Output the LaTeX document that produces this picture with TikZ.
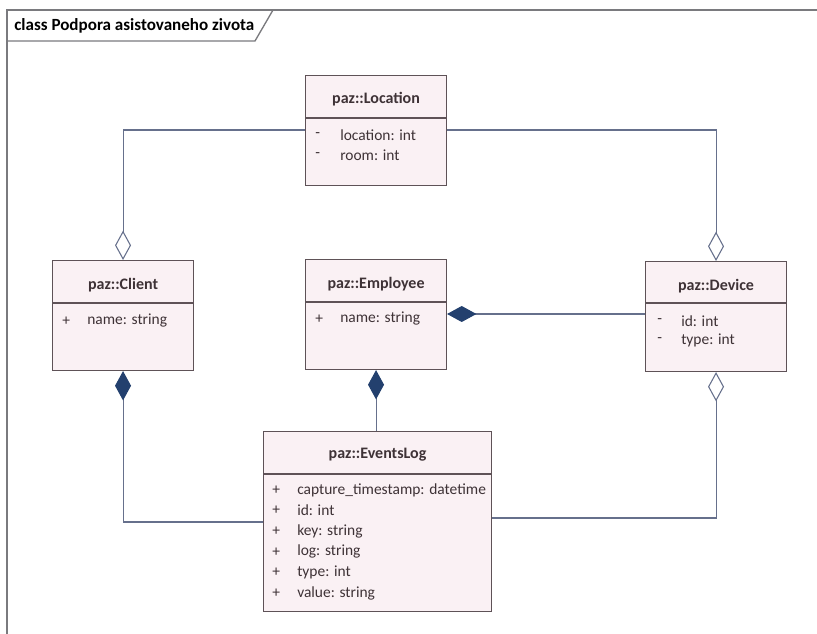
\documentclass[tikz,border=0pt]{standalone}
\usepackage{fontspec}
\setmainfont{Carlito}
\usetikzlibrary{arrows.meta}
\usetikzlibrary{calc}

\definecolor{boxfill}{HTML}{FAF1F4}
\definecolor{boxline}{HTML}{5E5257}
\definecolor{connline}{HTML}{66708C}
\definecolor{diafill}{HTML}{23406E}
\definecolor{txt}{HTML}{3E3236}
\definecolor{framecol}{HTML}{7A7A7E}

\tikzset{
	umlbox/.style={draw=boxline, fill=boxfill, line width=0.8pt, anchor=north west, inner sep=0pt,
		minimum width=105.75pt, minimum height=82.5pt},
	boxtitle/.style={font=\bfseries\fontsize{12}{14}\selectfont, text=txt, inner sep=0pt},
	attr/.style={font=\fontsize{11.6}{14}\selectfont, text=txt, anchor=west, inner sep=0pt},
	conn/.style={draw=connline, line width=0.8pt},
	agg/.style={conn, -{Diamond[length=22pt, width=12pt, fill=white, line width=0.8pt]}},
	comp/.style={conn, -{Diamond[length=22pt, width=12pt, fill=diafill, color=diafill]}}
}

\begin{document}
\begin{tikzpicture}[x=0.75pt, y=-0.75pt]
	\useasboundingbox (0,0) rectangle (817,634);
	\fill[white] (0,0) rectangle (817,634);

	% frame with its tab
	\draw[framecol, line width=1pt] (7,634) -- (7,10) -- (817,10);
	\draw[framecol, line width=1pt] (7,41) -- (255,41) -- (273,10);
	\node[anchor=west, font=\bfseries\fontsize{12.8}{15}\selectfont, text=black, inner sep=0pt] (frametitle) at (14,26) {class Podpora asistovaneho zivota};

	% class boxes
	\node[umlbox] (loc) at (305,75) {};
	\node[umlbox] (cli) at (52,260) {};
	\node[umlbox] (emp) at (305,259) {};
	\node[umlbox] (dev) at (645,261) {};
	\node[umlbox, minimum width=171pt, minimum height=135pt] (log) at (263,431) {};

	% header lines
	\draw[boxline, line width=0.8pt] ($(loc.north west)+(0,43)$) -- ($(loc.north east)+(0,43)$);
	\draw[boxline, line width=0.8pt] ($(cli.north west)+(0,43)$) -- ($(cli.north east)+(0,43)$);
	\draw[boxline, line width=0.8pt] ($(emp.north west)+(0,43)$) -- ($(emp.north east)+(0,43)$);
	\draw[boxline, line width=0.8pt] ($(dev.north west)+(0,42)$) -- ($(dev.north east)+(0,42)$);
	\draw[boxline, line width=0.8pt] ($(log.north west)+(0,43)$) -- ($(log.north east)+(0,43)$);

	% class names
	\node[boxtitle] (loct) at ($(loc.north)+(0,24)$) {paz::Location};
	\node[boxtitle] (clit) at ($(cli.north)+(0,25)$) {paz::Client};
	\node[boxtitle] (empt) at ($(emp.north)+(0,25)$) {paz::Employee};
	\node[boxtitle] (devt) at ($(dev.north)+(0,25)$) {paz::Device};
	\node[boxtitle] (logt) at ($(log.north)+(0,24)$) {paz::EventsLog};

	% attributes
	\node[attr] (loca1) at ($(loc.north west)+(10,60)$) {-};
	\node[attr] (loca2) at ($(loc.north west)+(35,60)$) {location: int};
	\node[attr] (locb1) at ($(loc.north west)+(10,80)$) {-};
	\node[attr] (locb2) at ($(loc.north west)+(35,80)$) {room: int};

	\node[attr] (clia1) at ($(cli.north west)+(10,61)$) {+};
	\node[attr] (clia2) at ($(cli.north west)+(35,61)$) {name: string};

	\node[attr] (empa1) at ($(emp.north west)+(10,60)$) {+};
	\node[attr] (empa2) at ($(emp.north west)+(35,60)$) {name: string};

	\node[attr] (deva1) at ($(dev.north west)+(12,60)$) {-};
	\node[attr] (deva2) at ($(dev.north west)+(36,60)$) {id: int};
	\node[attr] (devb1) at ($(dev.north west)+(12,79)$) {-};
	\node[attr] (devb2) at ($(dev.north west)+(36,79)$) {type: int};

	\foreach \i/\t in {0/{capture\_timestamp: datetime}, 1/{id: int}, 2/{key: string}, 3/{log: string}, 4/{type: int}, 5/{value: string}} {
		\node[attr] (logv\i) at ($(log.north west)+(9,59+20.6*\i)$) {+};
		\node[attr] (loga\i) at ($(log.north west)+(34,59+20.6*\i)$) {\t};
	}

	% associations
	\draw[agg] ($(loc.north west)+(0,55)$) -| (cli.north);
	\draw[agg] ($(loc.north east)+(0,55)$) -| (dev.north);
	\draw[comp] ($(dev.north west)+(0,53)$) coordinate (devl) -- (emp.east |- devl);
	\draw[comp] (log.north -| emp.south) -- (emp.south);
	\draw[comp] ($(log.north west)+(0,91)$) -| (cli.south);
	\draw[agg] ($(log.north east)+(0,87)$) -| (dev.south);

\end{tikzpicture}
\end{document}
